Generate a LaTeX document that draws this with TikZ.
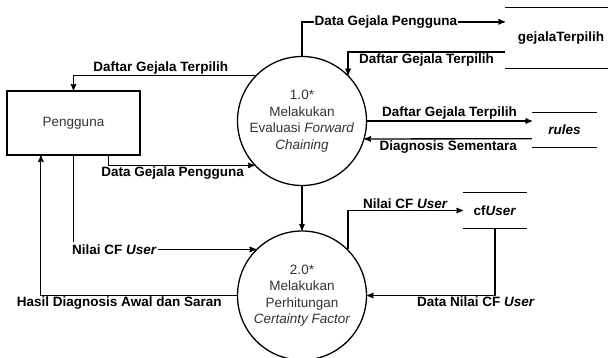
\documentclass[tikz,border=0pt]{standalone}
\usepackage{fontspec}
\setmainfont{Liberation Sans}
\usetikzlibrary{arrows}
\usetikzlibrary{positioning}

\tikzset{
	proses/.style={circle, draw, line width=1.3pt, minimum size=129pt, inner sep=0pt, align=center, text=black!80, font=\fontsize{13.5}{16.5}\selectfont},
	entitas/.style={rectangle, draw, line width=1.3pt, minimum width=133pt, minimum height=64pt, text=black!80, font=\fontsize{13.5}{16.5}\selectfont},
	simpan/.style={inner sep=0pt, font=\fontsize{13.5}{16.5}\selectfont\bfseries},
	alur/.style={line width=1.3pt, -stealth'},
	lbl/.style={font=\fontsize{13.5}{16.5}\selectfont\bfseries, inner sep=1pt}
}

\begin{document}
\begin{tikzpicture}[x=1pt,y=-1pt]
						% DFD level 1: Pengguna, proses 1.0* dan 2.0*, data store
						\useasboundingbox (0,0) rectangle (608,358);
						\node[entitas] (pengguna) at (73.5,123) {Pengguna};
						\node[proses] (p1) at (302,121) {1.0*\\Melakukan\\Evaluasi \textit{Forward}\\\textit{Chaining}};
						\node[proses] (p2) at (302,295.5) {2.0*\\Melakukan\\Perhitungan\\\textit{Certainty Factor}};
						\node[simpan, minimum width=112pt, minimum height=60pt] (gejala) at (561,38) {gejalaTerpilih};
						\node[simpan, minimum width=65pt, minimum height=34pt] (rules) at (564.5,130) {\textit{rules}};
						\node[simpan, minimum width=64pt, minimum height=35pt] (cfuser) at (495,210.5) {cf\textit{User}};
						\foreach \s in {gejala,rules,cfuser}{
							\draw[line width=1.3pt] (\s.north west) -- (\s.north east);
							\draw[line width=1.3pt] (\s.south west) -- (\s.south east);
						}
						\draw[alur] (p1.south) -- (p2.north);
						\draw[alur] (p1.136) -| node[lbl, above, pos=0.26] {Daftar Gejala Terpilih} (pengguna.north);
						\draw[alur] (pengguna.-43.7) |- node[lbl, below, pos=0.72] {Data Gejala Pengguna} (p1.223);
						\draw[alur] (pengguna.south) |- node[lbl, fill=white, anchor=west, pos=0.5, xshift=-3pt, inner ysep=2pt] {Nilai CF \textit{User}} (p2.135);
						\draw[alur] (p2.west) -| node[lbl, below, pos=0.3] {Hasil Diagnosis Awal dan Saran} (pengguna.-135.4);
						\draw[alur] (p1.north) |- node[lbl, fill=white, pos=0.707] {Data Gejala Pengguna} (gejala.164.1);
						\draw[alur] (gejala.194) -| node[lbl, below, pos=0.25] {Daftar Gejala Terpilih} (p1.45.8);
						\draw[alur] (p1.east) -- node[lbl, above] {Daftar Gejala Terpilih} (p1.east -| rules.west);
						\draw[alur] (rules.195.5) -- node[lbl, below] {Diagnosis Sementara} (p1.-16.2);
						\draw[alur] (p2.45.8) |- node[lbl, above, pos=0.75] {Nilai CF \textit{User}} (cfuser.west);
						\draw[alur] (cfuser.south) |- node[lbl, below, pos=0.5, xshift=-19pt] {Data Nilai CF \textit{User}} (p2.east);
					\end{tikzpicture}
\end{document}
